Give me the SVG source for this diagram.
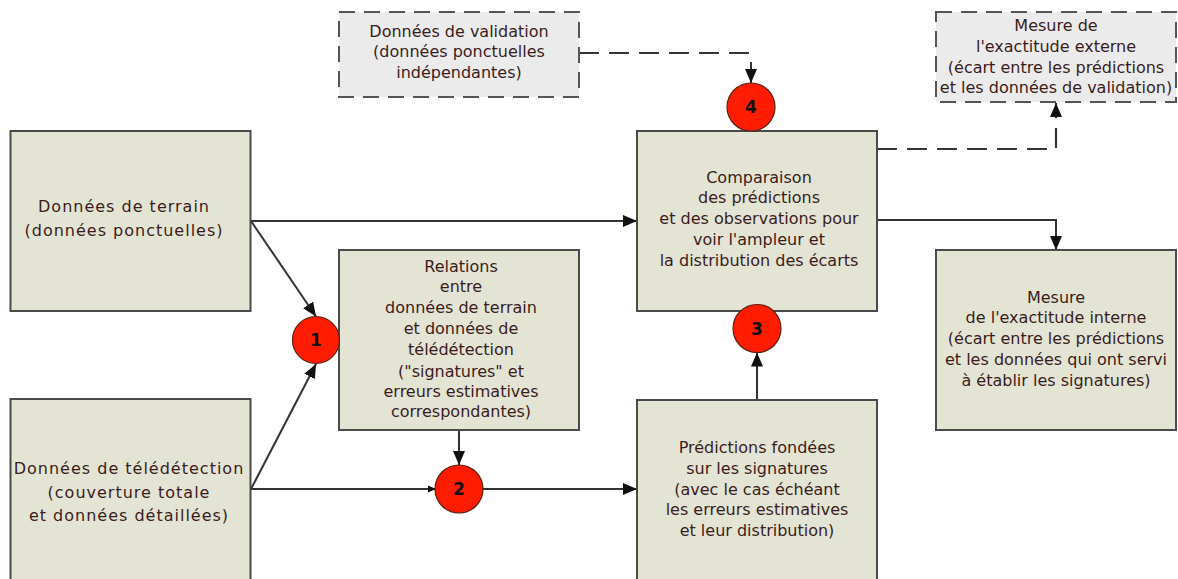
<svg xmlns="http://www.w3.org/2000/svg" width="1178" height="579" viewBox="0 0 1178 579">
<style>
.box{fill:#e4e4d4;stroke:#4a4a4a;stroke-width:2}
.shadow{fill:none;stroke:#a0a0a0;stroke-width:1.5}
.dbox{fill:#ebebeb;stroke:#555;stroke-width:2;stroke-dasharray:16 9}
.t{font-family:"DejaVu Sans",Verdana,sans-serif;font-size:16px;fill:#3a1c1c;text-anchor:middle}
.ls{letter-spacing:1px}
.c{fill:#ff1c00;stroke:#5a2010;stroke-width:1.2}
.n{font-family:"DejaVu Sans",Verdana,sans-serif;font-size:17px;font-weight:bold;fill:#111;text-anchor:middle}
.ln{fill:none;stroke:#333;stroke-width:2}
.dl{fill:none;stroke:#333;stroke-width:2.2;stroke-dasharray:20 10}
</style>
<defs>
<marker id="ah" markerUnits="userSpaceOnUse" markerWidth="14" markerHeight="14" viewBox="0 0 14 14" refX="14" refY="7" orient="auto">
<path d="M0,1 L14,7 L0,13 Z" fill="#111"/>
</marker>
<marker id="ahs" markerUnits="userSpaceOnUse" markerWidth="8" markerHeight="8" viewBox="0 0 8 8" refX="8" refY="4" orient="auto">
<path d="M0,0.5 L8,4 L0,7.5 Z" fill="#111"/>
</marker>
</defs>

<g id="connectors">
<path class="ln" d="M251,221 H637" marker-end="url(#ah)"/>
<path class="ln" d="M251,221 L316,316.5" marker-end="url(#ah)"/>
<path class="ln" d="M251,489 L316,364" marker-end="url(#ah)"/>
<path class="ln" d="M251,489 H436" marker-end="url(#ahs)"/>
<path class="ln" d="M483,489 H637" marker-end="url(#ah)"/>
<path class="ln" d="M459,430 V465" marker-end="url(#ah)"/>
<path class="ln" d="M757,400 V352.5" marker-end="url(#ah)"/>
<path class="ln" d="M877,220 H1056 V250" marker-end="url(#ah)"/>
<path class="dl" d="M579,53 H751"/>
<path class="ln" d="M751,62 V83" marker-end="url(#ah)"/>
<path class="dl" d="M877,149 H1056 V118"/>
<path class="ln" d="M1056,118 V103" marker-end="url(#ah)"/>
</g>

<g id="terrain">
<rect class="box" x="10.5" y="131" width="240" height="180"/>
<text class="t ls" x="124" y="212">Données de terrain</text>
<text class="t ls" x="124" y="236">(données ponctuelles)</text>
</g>

<g id="teledetection">
<rect class="box" x="10.5" y="399" width="240" height="190"/>
<text class="t ls" x="129" y="474">Données de télédétection</text>
<text class="t ls" x="129" y="498">(couverture totale</text>
<text class="t ls" x="129" y="521">et données détaillées)</text>
</g>

<g id="validation">
<rect class="dbox" x="339" y="12" width="240" height="85"/>
<text class="t" x="459" y="37">Données de validation</text>
<text class="t" x="459" y="57">(données ponctuelles</text>
<text class="t" x="459" y="78">indépendantes)</text>
</g>

<g id="relations">
<rect class="box" x="339" y="250" width="240" height="180"/>
<text class="t" x="461" y="272">Relations</text>
<text class="t" x="461" y="292">entre</text>
<text class="t" x="461" y="313">données de terrain</text>
<text class="t" x="461" y="334">et données de</text>
<text class="t" x="461" y="355">télédétection</text>
<text class="t" x="461" y="377">("signatures" et</text>
<text class="t" x="461" y="397">erreurs estimatives</text>
<text class="t" x="461" y="417">correspondantes)</text>
</g>

<g id="comparaison">
<rect class="box" x="637" y="131" width="240" height="180"/>
<text class="t" x="759" y="183">Comparaison</text>
<text class="t" x="759" y="203">des prédictions</text>
<text class="t" x="759" y="224">et des observations pour</text>
<text class="t" x="759" y="245">voir l'ampleur et</text>
<text class="t" x="759" y="266">la distribution des écarts</text>
</g>

<g id="predictions">
<rect class="box" x="637" y="400" width="240" height="190"/>
<text class="t" x="757" y="453">Prédictions fondées</text>
<text class="t" x="757" y="474">sur les signatures</text>
<text class="t" x="757" y="495">(avec le cas échéant</text>
<text class="t" x="757" y="515">les erreurs estimatives</text>
<text class="t" x="757" y="536">et leur distribution)</text>
</g>

<g id="externe">
<rect class="dbox" x="936" y="12" width="240" height="90"/>
<text class="t" x="1056" y="31">Mesure de</text>
<text class="t" x="1056" y="52">l'exactitude externe</text>
<text class="t" x="1056" y="73">(écart entre les prédictions</text>
<text class="t" x="1056" y="93">et les données de validation)</text>
</g>

<g id="interne">
<rect class="box" x="936" y="250" width="240" height="180"/>
<text class="t" x="1056" y="303">Mesure</text>
<text class="t" x="1056" y="323">de l'exactitude interne</text>
<text class="t" x="1056" y="344">(écart entre les prédictions</text>
<text class="t" x="1056" y="365">et les données qui ont servi</text>
<text class="t" x="1056" y="386">à établir les signatures)</text>
</g>

<g id="step1"><circle class="c" cx="316" cy="340" r="23.5"/><text class="n" x="316" y="346">1</text></g>
<g id="step2"><circle class="c" cx="459" cy="489" r="24"/><text class="n" x="459" y="495">2</text></g>
<g id="step3"><circle class="c" cx="757" cy="328.5" r="24"/><text class="n" x="757" y="334.5">3</text></g>
<g id="step4"><circle class="c" cx="751" cy="107" r="24"/><text class="n" x="751" y="113">4</text></g>
</svg>
